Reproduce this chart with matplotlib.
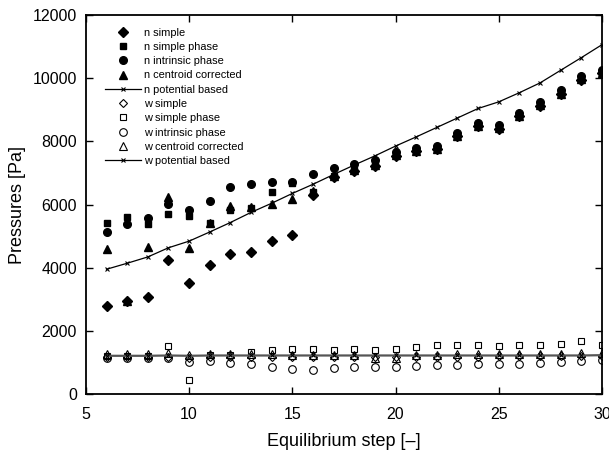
import matplotlib
matplotlib.use("Agg")
import matplotlib.pyplot as plt

plt.rcParams["font.family"] = ["Liberation Sans", "DejaVu Sans"]

steps = list(range(6, 31))

# n-phase pressures [Pa]
n_simple = [2780, 2950, 3080, 4230, 3500, 4100, 4430, 4500, 4850, 5040,
            6300, 6880, 7070, 7230, 7550, 7680, 7760, 8160, 8470, 8400,
            8790, 9130, 9500, 9950, 10150]
n_simple_phase = [5420, 5620, 5380, 5690, 5630, 5400, 5820, 5900, 6380, 6670,
                  6380, 6900, 7100, 7250, 7580, 7700, 7780, 8180, 8500, 8420,
                  8810, 9150, 9520, 9970, 10180]
n_intrinsic = [5130, 5370, 5560, 6030, 5820, 6120, 6540, 6650, 6700, 6700,
               6950, 7140, 7270, 7400, 7660, 7790, 7850, 8250, 8580, 8510,
               8900, 9250, 9610, 10060, 10270]
n_centroid = [4580, 2930, 4640, 6230, 4610, 5400, 5940, 5910, 6030, 6190,
              6420, 6900, 7090, 7240, 7570, 7690, 7770, 8170, 8480, 8410,
              8800, 9140, 9510, 9960, 10170]
n_potential = [3950, 4140, 4340, 4630, 4840, 5130, 5430, 5750, 6040, 6350,
               6640, 6950, 7250, 7540, 7850, 8140, 8440, 8740, 9040, 9250,
               9540, 9850, 10250, 10650, 11060]

# w-phase pressures [Pa]
w_simple = [1180, 1170, 1170, 1180, 1130, 1160, 1170, 1170, 1170, 1170,
            1160, 1170, 1160, 1170, 1170, 1180, 1170, 1180, 1180, 1190,
            1190, 1190, 1190, 1200, 1210]
w_simple_phase = [1200, 1200, 1200, 1530, 430, 1250, 1250, 1340, 1400, 1410,
                  1420, 1400, 1420, 1400, 1440, 1500, 1550, 1550, 1550, 1510,
                  1550, 1550, 1570, 1680, 1550]
w_intrinsic = [1140, 1140, 1140, 1150, 1020, 1040, 980, 940, 870, 800,
               750, 810, 850, 860, 850, 890, 910, 910, 940, 940,
               950, 970, 1000, 1030, 1080]
w_centroid = [1270, 1270, 1260, 1290, 1230, 1270, 1260, 1270, 1260, 1250,
              1250, 1240, 1230, 1150, 1130, 1230, 1250, 1260, 1260, 1260,
              1260, 1270, 1270, 1290, 1300]
w_potential = [1210, 1210, 1210, 1220, 1210, 1220, 1220, 1220, 1220, 1220,
               1220, 1220, 1220, 1220, 1220, 1220, 1220, 1220, 1220, 1220,
               1220, 1220, 1220, 1220, 1230]

fig = plt.figure(figsize=(6.09, 4.5), dpi=100)
ax = fig.add_axes([0.141, 0.1244, 0.8475, 0.8423])

k = dict(ls="none", color="black", mec="black")
ax.plot(steps, n_simple, marker="D", ms=4.8, label="n simple", **k)
ax.plot(steps, n_simple_phase, marker="s", ms=5, label="n simple phase", **k)
ax.plot(steps, n_intrinsic, marker="o", ms=5.5, label="n intrinsic phase", **k)
ax.plot(steps, n_centroid, marker="^", ms=6, label="n centroid corrected", **k)
ax.plot(steps, n_potential, color="black", lw=0.9, marker="x", ms=3.5, mew=0.8,
        label="n potential based")

o = dict(ls="none", mfc="none", mec="black", mew=0.8)
ax.plot(steps, w_simple, marker="D", ms=4.5, label="w simple", **o)
ax.plot(steps, w_simple_phase, marker="s", ms=5, label="w simple phase", **o)
ax.plot(steps, w_intrinsic, marker="o", ms=5.5, label="w intrinsic phase", **o)
ax.plot(steps, w_centroid, marker="^", ms=6, label="w centroid corrected", **o)
ax.plot(steps, w_potential, color="#555555", lw=1.6, marker="x", ms=3.5, mew=0.8,
        mec="black", label="w potential based")

ax.set_xlim(5, 30)
ax.set_ylim(0, 12000)
ax.set_xticks(range(5, 31, 5))
ax.set_yticks(range(0, 12001, 2000))
ax.tick_params(direction="in", length=5, width=1, top=True, right=True, labelsize=11.5)
ax.tick_params(axis="x", pad=9)
ax.tick_params(axis="y", pad=6.5)
for s in ax.spines.values():
    s.set_linewidth(1.3)
ax.set_xlabel("Equilibrium step [\u2013]", fontsize=13, labelpad=8)
ax.set_ylabel("Pressures [Pa]", fontsize=13, labelpad=5)

leg = ax.legend(loc="upper left", frameon=False, fontsize=7.9, handlelength=3.3,
                handletextpad=0.3, labelspacing=0.39, borderaxespad=0.4,
                bbox_to_anchor=(0.02, 0.99))
leg.legend_handles[-1].set_color("black")
leg.legend_handles[-1].set_linewidth(0.9)

fig.savefig("out.png", dpi=100)
